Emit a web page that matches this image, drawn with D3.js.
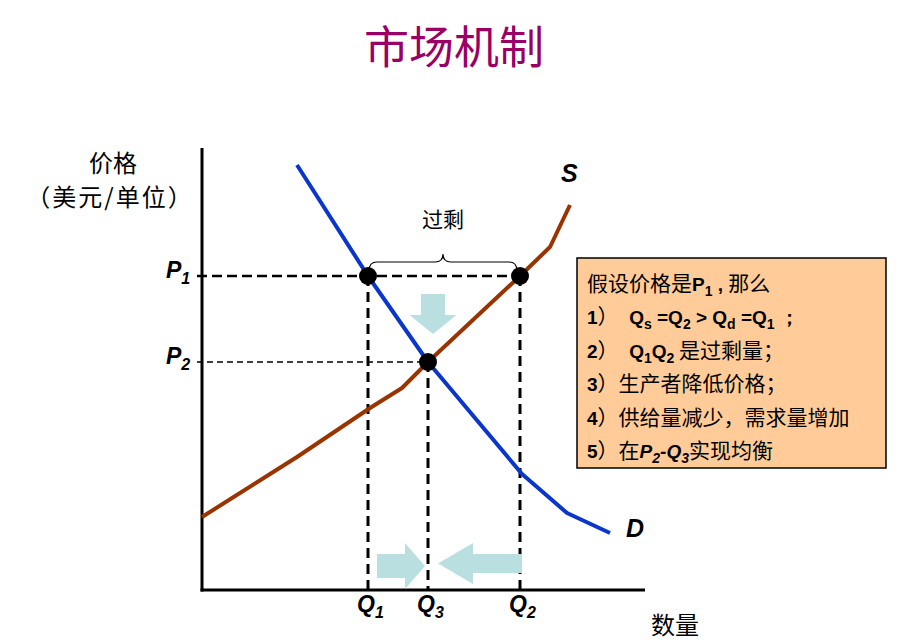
<!DOCTYPE html>
<html><head><meta charset="utf-8">
<script src="https://cdn.jsdelivr.net/npm/d3@7/dist/d3.min.js"></script>
<style>body{margin:0;background:#fff}</style>
</head><body><svg id="c" width="898" height="642"></svg>
<script>
// ---- data ----
const demandQ = [1.9, 3.32, 4.52, 6.4, 7.3, 8.16];
const demandP = [8.5, 6.28, 4.56, 2.32, 1.54, 1.14];
const supplyQ = [0, 1.9, 3.36, 4.0, 4.52, 6.36, 6.96, 7.36];
const supplyP = [1.46, 2.66, 3.64, 4.04, 4.56, 6.28, 6.86, 7.7];
const priceLevels = [6.28, 4.56];          // P1, P2
const priceSubs = ["1", "2"];
const priceLineEnds = [6.36, 4.52];        // dashed price lines run to Q2 / Q3
const qtyLevels = [3.32, 4.52, 6.36];      // Q1, Q3, Q2
const qtySubs = ["1", "3", "2"];
const qtyLineTops = [6.28, 4.56, 6.28];
const pointQ = [3.32, 6.36, 4.52];
const pointP = [6.28, 6.28, 4.56];
const titleText = "市场机制";
const yTitle = ["价格", "（美元/单位）"];
const xTitle = "数量";
const surplusLabel = "过剩";
const infoLines = [
  [["假设价格是","c"],["P","b"],["1","s"],[" , ","b"],["那么","c"]],
  [["1","b"],["）","c"],["  Q","b"],["s","s"],[" =Q","b"],["2","s"],[" > Q","b"],["d","s"],[" =Q","b"],["1","s"],[" ；","b"]],
  [["2","b"],["）","c"],["  Q","b"],["1","s"],["Q","b"],["2","s"],[" 是过剩量；","c"]],
  [["3","b"],["）生产者降低价格；","c"]],
  [["4","b"],["）供给量减少，需求量增加","c"]],
  [["5","b"],["）在","c"],["P","bi"],["2","si"],["-Q","bi"],["3","si"],["实现均衡","c"]]
];

// ---- drawing ----
const svg = d3.select("#c");
const x = d3.scaleLinear().domain([0, 9]).range([202, 652]);
const y = d3.scaleLinear().domain([0, 9]).range([590, 140]);
const CJK = "'Noto Sans CJK SC', sans-serif";
const LAT = "'Liberation Sans', Arial, sans-serif";

// title
svg.append("text").attr("x", 454).attr("y", 64).attr("text-anchor", "middle")
  .style("font-family", CJK).style("font-size", "45px").attr("fill", "#990066").text(titleText);

// axis titles
svg.append("text").attr("x", 113).attr("y", 172).attr("text-anchor", "middle")
  .style("font-family", CJK).style("font-size", "24px").text(yTitle[0]);
svg.append("text").attr("x", 110).attr("y", 206).attr("text-anchor", "middle")
  .style("font-family", CJK).style("font-size", "24px").style("letter-spacing", "2px").text(yTitle[1]);
svg.append("text").attr("x", 651).attr("y", 634)
  .style("font-family", CJK).style("font-size", "24px").text(xTitle);

// dashed guide lines
priceLevels.forEach((p, i) => {
  svg.append("line").attr("x1", x(-0.1)).attr("x2", x(priceLineEnds[i]))
    .attr("y1", y(p)).attr("y2", y(p)).attr("stroke", "#000")
    .attr("stroke-width", i === 0 ? 2.5 : 1.5)
    .attr("stroke-dasharray", i === 0 ? "10,5" : "6,4");
});
qtyLevels.forEach((q, i) => {
  svg.append("line").attr("x1", x(q)).attr("x2", x(q))
    .attr("y1", y(qtyLineTops[i])).attr("y2", y(0)).attr("stroke", "#000")
    .attr("stroke-width", 3).attr("stroke-dasharray", "10,6");
});

// axes
svg.append("line").attr("x1", x(0)).attr("x2", x(0)).attr("y1", y(8.84)).attr("y2", y(0) + 1.5)
  .attr("stroke", "#000").attr("stroke-width", 3);
svg.append("line").attr("x1", x(0) - 1.5).attr("x2", x(8.86)).attr("y1", y(0)).attr("y2", y(0))
  .attr("stroke", "#000").attr("stroke-width", 3);

// curves
const line = d3.line().x(d => x(d[0])).y(d => y(d[1]));
svg.append("path").attr("d", line(supplyQ.map((q, i) => [q, supplyP[i]])))
  .attr("fill", "none").attr("stroke", "#993300").attr("stroke-width", 4).attr("stroke-linejoin", "round");
svg.append("path").attr("d", line(demandQ.map((q, i) => [q, demandP[i]])))
  .attr("fill", "none").attr("stroke", "#0a36cc").attr("stroke-width", 4).attr("stroke-linejoin", "round");

// arrows
const arrowFill = "#b9dfe1";
{
  const cx = x(qtyLevels[1]) + 5, top = y(priceLevels[0]) + 18, shaftEnd = top + 21, tip = top + 40;
  svg.append("path").attr("fill", arrowFill).attr("d",
    `M${cx-12},${top}H${cx+12}V${shaftEnd}H${cx+23.5}L${cx},${tip}L${cx-23.5},${shaftEnd}H${cx-12}Z`);
}
{
  const cy = 566, tail = x(qtyLevels[0]) + 9, tip = x(qtyLevels[1]) - 3, neck = tip - 20;
  svg.append("path").attr("fill", arrowFill).attr("d",
    `M${tail},${cy-12}H${neck}V${cy-23}L${tip},${cy}L${neck},${cy+23}V${cy+12}H${tail}Z`);
}
{
  const cy = 563.5, tail = x(qtyLevels[2]) + 2, tip = x(qtyLevels[1]) + 10, neck = tip + 35;
  svg.append("path").attr("fill", arrowFill).attr("d",
    `M${tail},${cy-9.5}H${neck}V${cy-20.5}L${tip},${cy}L${neck},${cy+20.5}V${cy+9.5}H${tail}Z`);
}

// brace over the surplus
{
  const a = x(qtyLevels[0]) + 1, b = x(qtyLevels[2]) - 3, m = (a + b) / 2;
  const yb = y(priceLevels[0]) - 5, yl = yb - 9, yt = yl - 8;
  svg.append("path").attr("fill", "none").attr("stroke", "#000").attr("stroke-width", 1.2).attr("d",
    `M${a},${yb}Q${a},${yl} ${a+8},${yl}L${m-8},${yl}Q${m},${yl} ${m},${yt}Q${m},${yl} ${m+8},${yl}L${b-8},${yl}Q${b},${yl} ${b},${yb}`);
  svg.append("text").attr("x", m).attr("y", 227).attr("text-anchor", "middle")
    .style("font-family", CJK).style("font-size", "21px").text(surplusLabel);
}

// intersection dots
pointQ.forEach((q, i) => {
  svg.append("circle").attr("cx", x(q)).attr("cy", y(pointP[i])).attr("r", 9).attr("fill", "#000");
});

// P / Q labels
function subLabel(xp, yp, main, sub, size) {
  const t = svg.append("text").attr("x", xp).attr("y", yp)
    .style("font-family", LAT).style("font-weight", "bold").style("font-style", "italic")
    .style("font-size", size + "px");
  t.append("tspan").text(main);
  t.append("tspan").attr("dy", 6).style("font-size", "16px").text(sub);
}
priceLevels.forEach((p, i) => subLabel(166, y(p) + 2, "P", priceSubs[i], 23));
qtyLevels.forEach((q, i) => subLabel(x(q) - 11, 612, "Q", qtySubs[i], 23));

svg.append("text").attr("x", 561).attr("y", 182)
  .style("font-family", LAT).style("font-weight", "bold").style("font-style", "italic")
  .style("font-size", "25px").text("S");
svg.append("text").attr("x", 626).attr("y", 537)
  .style("font-family", LAT).style("font-weight", "bold").style("font-style", "italic")
  .style("font-size", "25px").text("D");

// info box
svg.append("rect").attr("x", 577).attr("y", 258).attr("width", 309).attr("height", 210)
  .attr("fill", "#ffcc99").attr("stroke", "#000").attr("stroke-width", 1.5);
infoLines.forEach((segs, i) => {
  const t = svg.append("text").attr("x", 587).attr("y", 291 + i * 33.4).attr("fill", "#000");
  let off = 0;
  segs.forEach(([txt, kind]) => {
    const sp = t.append("tspan").text(txt).style("white-space", "pre").attr("xml:space", "preserve");
    const isSub = kind === "s" || kind === "si";
    const target = isSub ? 5 : 0;
    if (target !== off) { sp.attr("dy", target - off); off = target; }
    if (kind === "c") {
      sp.style("font-family", CJK).style("font-size", "21px");
    } else {
      sp.style("font-family", LAT).style("font-weight", "bold")
        .style("font-size", isSub ? "14px" : "19px");
      if (kind === "bi" || kind === "si") sp.style("font-style", "italic");
    }
  });
});
</script></body></html>
